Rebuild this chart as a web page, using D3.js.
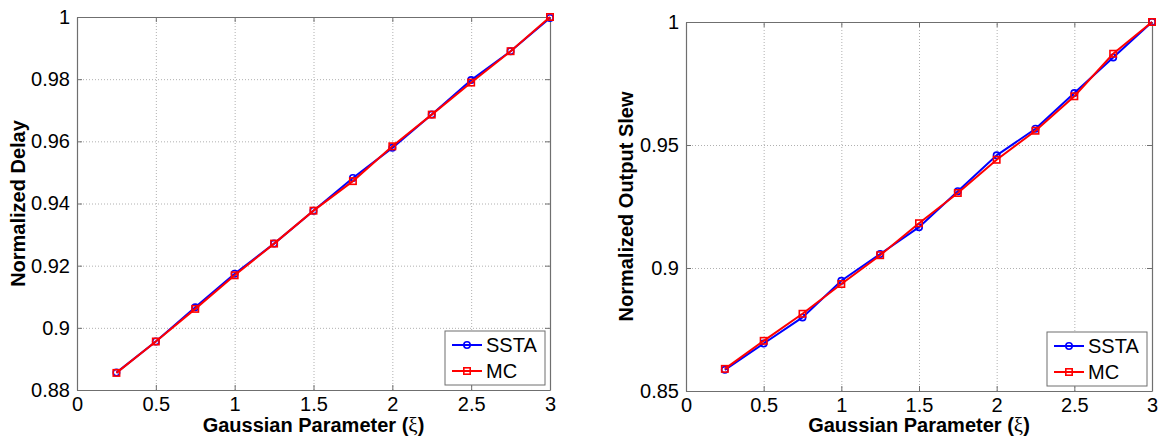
<!DOCTYPE html>
<html>
<head>
<meta charset="utf-8">
<script src="https://cdn.jsdelivr.net/npm/d3@7"></script>
<style>
  body { margin: 0; background: #fff; }
  text { font-family: "Liberation Sans", Arial, sans-serif; fill: #000; }
</style>
</head>
<body>
<svg id="chart" width="1164" height="441"></svg>
<script>
/** Gaussian parameter values (x axis, both panels) */
var xVals = [0.25, 0.5, 0.75, 1, 1.25, 1.5, 1.75, 2, 2.25, 2.5, 2.75, 3];

/** Left panel: normalized delay */
var delaySSTA = [0.8856, 0.8956, 0.9066, 0.9174, 0.9271, 0.9377, 0.9482, 0.9579, 0.9686, 0.9797, 0.9890, 0.9997];
var delayMC   = [0.8855, 0.8956, 0.9061, 0.9169, 0.9271, 0.9377, 0.9472, 0.9584, 0.9686, 0.9789, 0.9890, 1.0000];

/** Right panel: normalized output slew */
var slewSSTA = [0.8586, 0.8693, 0.8799, 0.8948, 0.9057, 0.9166, 0.9312, 0.9458, 0.9566, 0.9711, 0.9856, 1.0000];
var slewMC   = [0.8590, 0.8704, 0.8814, 0.8935, 0.9052, 0.9182, 0.9305, 0.9440, 0.9558, 0.9698, 0.9871, 1.0000];

/** Tick values */
var xTicks = [0, 0.5, 1, 1.5, 2, 2.5, 3];
var delayTicks = [0.88, 0.9, 0.92, 0.94, 0.96, 0.98, 1];
var slewTicks = [0.85, 0.9, 0.95, 1];

var seriesNames = ['SSTA', 'MC'];
var xLabel = 'Gaussian Parameter (';

var svg = d3.select('#chart');
var fmt = function (d) { return String(+d.toFixed(2)); };

var panels = [
    { x0: 77, x1: 550, y0: 17, y1: 390, yDomain: [0.88, 1], yTicks: delayTicks,
      yLabel: 'Normalized Delay', labelX: 18, sets: [delaySSTA, delayMC] },
    { x0: 686, x1: 1152, y0: 22, y1: 391, yDomain: [0.85, 1], yTicks: slewTicks,
      yLabel: 'Normalized Output Slew', labelX: 626, sets: [slewSSTA, slewMC] }
];

var colors = ['#0000ff', '#ff0000'];

panels.forEach(function (p) {
    var x = d3.scaleLinear().domain([0, 3]).range([p.x0, p.x1]);
    var y = d3.scaleLinear().domain(p.yDomain).range([p.y1, p.y0]);
    var w = p.x1 - p.x0, h = p.y1 - p.y0;
    var g = svg.append('g');

    // grid
    g.append('g')
        .attr('transform', 'translate(0,' + p.y1 + ')')
        .call(d3.axisBottom(x).tickValues(xTicks.slice(1, -1)).tickSize(-h).tickFormat(''))
        .call(function (s) { s.select('.domain').remove(); });
    g.append('g')
        .attr('transform', 'translate(' + p.x0 + ',0)')
        .call(d3.axisLeft(y).tickValues(p.yTicks.slice(1, -1)).tickSize(-w).tickFormat(''))
        .call(function (s) { s.select('.domain').remove(); });
    g.selectAll('.tick line')
        .attr('stroke', '#b0b0b0')
        .attr('stroke-dasharray', '1,2');

    // axes with inward ticks
    var axes = [
        { a: d3.axisBottom(x).tickValues(xTicks).tickFormat(fmt), t: 'translate(0,' + p.y1 + ')' },
        { a: d3.axisTop(x).tickValues(xTicks).tickFormat(''), t: 'translate(0,' + p.y0 + ')' },
        { a: d3.axisLeft(y).tickValues(p.yTicks).tickFormat(fmt), t: 'translate(' + p.x0 + ',0)' },
        { a: d3.axisRight(y).tickValues(p.yTicks).tickFormat(''), t: 'translate(' + p.x1 + ',0)' }
    ];
    axes.forEach(function (ax) {
        var s = g.append('g')
            .attr('transform', ax.t)
            .call(ax.a.tickSizeInner(-5).tickSizeOuter(0).tickPadding(7));
        s.select('.domain').attr('stroke', '#6f6f6f').attr('stroke-width', 1.2);
        s.selectAll('.tick line').attr('stroke', '#6f6f6f');
        s.selectAll('.tick text').style('font-size', '20px').attr('fill', '#000');
    });

    // data
    var line = d3.line()
        .x(function (d) { return x(d[0]); })
        .y(function (d) { return y(d[1]); });

    p.sets.forEach(function (vals, k) {
        var pts = xVals.map(function (xv, i) { return [xv, vals[i]]; });
        g.append('path')
            .datum(pts)
            .attr('d', line)
            .attr('fill', 'none')
            .attr('stroke', colors[k])
            .attr('stroke-width', 2);
        if (k === 0) {
            g.selectAll('.m' + k).data(pts).enter().append('circle')
                .attr('cx', function (d) { return x(d[0]); })
                .attr('cy', function (d) { return y(d[1]); })
                .attr('r', 3.2)
                .attr('fill', 'none')
                .attr('stroke', colors[k])
                .attr('stroke-width', 1.6);
        } else {
            g.selectAll('.m' + k).data(pts).enter().append('rect')
                .attr('x', function (d) { return x(d[0]) - 3.2; })
                .attr('y', function (d) { return y(d[1]) - 3.2; })
                .attr('width', 6.4)
                .attr('height', 6.4)
                .attr('fill', 'none')
                .attr('stroke', colors[k])
                .attr('stroke-width', 1.6);
        }
    });

    // axis labels
    var xl = g.append('text')
        .attr('x', (p.x0 + p.x1) / 2)
        .attr('y', 432)
        .attr('text-anchor', 'middle')
        .style('font-size', '20px')
        .style('font-weight', 'bold');
    xl.append('tspan').text(xLabel);
    xl.append('tspan').style('font-family', '"Liberation Serif", "DejaVu Serif", serif')
        .style('font-weight', 'normal').style('font-size', '21px').text('\u03BE');
    xl.append('tspan').text(')');
    g.append('text')
        .attr('transform', 'translate(' + (p.labelX + 7) + ',' + ((p.y0 + p.y1) / 2) + ') rotate(-90)')
        .attr('text-anchor', 'middle')
        .style('font-size', '20px')
        .style('font-weight', 'bold')
        .text(p.yLabel);

    // legend
    var lw = 100, lh = 54;
    var lx = p.x1 - 5 - lw, ly = p.y1 - 5 - lh;
    var leg = g.append('g').attr('transform', 'translate(' + lx + ',' + ly + ')');
    leg.append('rect')
        .attr('width', lw).attr('height', lh)
        .attr('fill', '#fff').attr('stroke', '#6f6f6f');
    seriesNames.forEach(function (name, k) {
        var ry = 14 + k * 26;
        leg.append('line')
            .attr('x1', 7).attr('x2', 37).attr('y1', ry).attr('y2', ry)
            .attr('stroke', colors[k]).attr('stroke-width', 2);
        if (k === 0) {
            leg.append('circle').attr('cx', 22).attr('cy', ry).attr('r', 3.2)
                .attr('fill', 'none').attr('stroke', colors[k]).attr('stroke-width', 1.6);
        } else {
            leg.append('rect').attr('x', 18.8).attr('y', ry - 3.2).attr('width', 6.4).attr('height', 6.4)
                .attr('fill', 'none').attr('stroke', colors[k]).attr('stroke-width', 1.6);
        }
        leg.append('text')
            .attr('x', 41).attr('y', ry + 7)
            .style('font-size', '20px')
            .text(name);
    });
});
</script>
</body>
</html>
